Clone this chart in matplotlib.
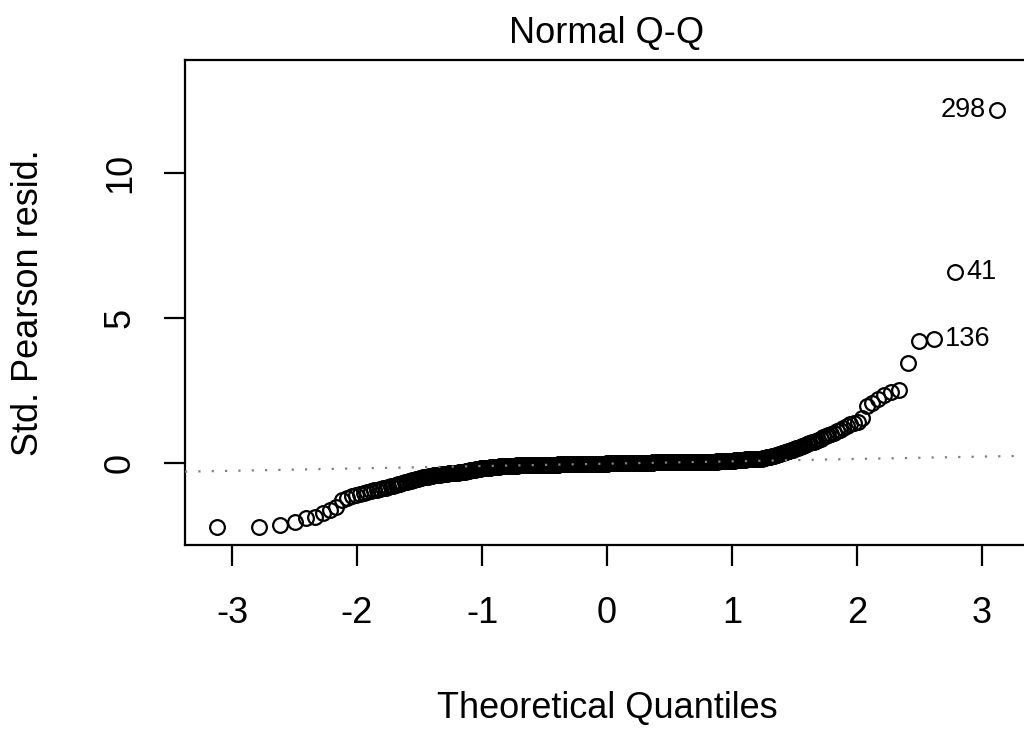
import statistics

import matplotlib
matplotlib.use("Agg")
import matplotlib.pyplot as plt
import numpy as np

plt.rcParams["font.family"] = ["Liberation Sans", "DejaVu Sans"]
plt.rcParams["axes.unicode_minus"] = False

# Sorted standardized Pearson residuals, lowest to highest
left_tail = [-2.22, -2.20, -2.14, -2.02, -1.91, -1.85, -1.73, -1.62, -1.51, -1.28,
             -1.20, -1.15]

lower_shoulder = [
    -1.10, -1.06, -1.02, -1.00, -0.97, -0.95, -0.92, -0.90,
    -0.88, -0.85, -0.83, -0.80, -0.78, -0.76, -0.73, -0.71, -0.68, -0.66,
    -0.64, -0.63, -0.61, -0.59, -0.58, -0.56, -0.55, -0.53, -0.52, -0.50,
    -0.49, -0.48, -0.47, -0.46, -0.45, -0.44, -0.43, -0.42, -0.41, -0.40,
    -0.40, -0.39, -0.39, -0.38, -0.38, -0.37, -0.37, -0.36, -0.36, -0.35,
    -0.35, -0.35, -0.34, -0.34, -0.33, -0.33, -0.32, -0.32, -0.31, -0.31,
    -0.30, -0.30, -0.29, -0.28, -0.28, -0.27, -0.26, -0.26, -0.25, -0.24,
    -0.24, -0.23, -0.22, -0.22, -0.21, -0.21, -0.20, -0.19, -0.19, -0.18,
]

center_low = [
    -0.18, -0.18, -0.17, -0.17, -0.17, -0.16, -0.16, -0.16, -0.15, -0.15,
    -0.15, -0.14, -0.14, -0.14, -0.14, -0.13, -0.13, -0.13, -0.13, -0.12,
    -0.12, -0.12, -0.12, -0.12, -0.11, -0.11, -0.11, -0.11, -0.11, -0.10,
    -0.10, -0.10, -0.10, -0.10, -0.10, -0.09, -0.09, -0.09, -0.09, -0.09,
    -0.09, -0.09, -0.08, -0.08, -0.08, -0.08, -0.08, -0.08, -0.08, -0.08,
]

center_mid_low = [
    -0.08, -0.08, -0.08, -0.08, -0.08, -0.08, -0.08, -0.08, -0.08, -0.08,
    -0.08, -0.08, -0.08, -0.08, -0.08, -0.07, -0.07, -0.07, -0.07, -0.07,
    -0.07, -0.07, -0.07, -0.07, -0.07, -0.07, -0.07, -0.07, -0.07, -0.07,
    -0.07, -0.07, -0.07, -0.07, -0.07, -0.06, -0.06, -0.06, -0.06, -0.06,
    -0.06, -0.06, -0.06, -0.06, -0.06, -0.06, -0.06, -0.06, -0.06, -0.06,
    -0.06, -0.06, -0.06, -0.06, -0.06, -0.05, -0.05, -0.05, -0.05, -0.05,
    -0.05, -0.05, -0.05, -0.05, -0.05, -0.05, -0.05, -0.05, -0.05, -0.05,
    -0.05, -0.05, -0.05, -0.05, -0.05, -0.04, -0.04, -0.04, -0.04, -0.04,
    -0.04, -0.04, -0.04, -0.04, -0.04, -0.04, -0.04, -0.04, -0.04, -0.04,
    -0.04, -0.04, -0.04, -0.04, -0.04, -0.04, -0.04, -0.04, -0.04, -0.04,
    -0.03, -0.03, -0.03, -0.03, -0.03, -0.03, -0.03, -0.03, -0.03, -0.03,
    -0.03, -0.03, -0.03, -0.03, -0.03, -0.03, -0.03, -0.03, -0.03, -0.03,
    -0.02, -0.02, -0.02, -0.02, -0.02, -0.02, -0.02, -0.02, -0.02, -0.02,
    -0.02, -0.02, -0.02, -0.02, -0.02, -0.02, -0.02, -0.02, -0.02, -0.02,
]

center_mid_high = [
    -0.01, -0.01, -0.01, -0.01, -0.01, -0.01, -0.01, -0.01, -0.01, -0.01,
    -0.01, -0.01, -0.01, -0.01, -0.01, -0.01, -0.01, -0.01, -0.01, -0.01,
    0.00, 0.00, 0.00, 0.00, 0.00, 0.00, 0.00, 0.00, 0.00, 0.00,
    0.00, 0.00, 0.00, 0.00, 0.00, 0.00, 0.00, 0.00, 0.00, 0.00,
    0.00, 0.00, 0.00, 0.00, 0.00, 0.00, 0.00, 0.00, 0.00, 0.00,
    0.01, 0.01, 0.01, 0.01, 0.01, 0.01, 0.01, 0.01, 0.01, 0.01,
    0.01, 0.01, 0.01, 0.01, 0.01, 0.01, 0.01, 0.01, 0.01, 0.01,
    0.01, 0.01, 0.01, 0.01, 0.01, 0.01, 0.01, 0.01, 0.01, 0.01,
    0.02, 0.02, 0.02, 0.02, 0.02, 0.02, 0.02, 0.02, 0.02, 0.02,
    0.02, 0.02, 0.02, 0.02, 0.02, 0.02, 0.02, 0.02, 0.02, 0.02,
    0.02, 0.02, 0.02, 0.02, 0.02, 0.02, 0.02, 0.02, 0.02, 0.02,
    0.03, 0.03, 0.03, 0.03, 0.03, 0.03, 0.03, 0.03, 0.03, 0.03,
    0.03, 0.03, 0.03, 0.03, 0.03, 0.03, 0.03, 0.03, 0.03, 0.03,
    0.03, 0.03, 0.03, 0.03, 0.03, 0.03, 0.03, 0.03, 0.03, 0.03,
]

center_high = [
    0.03, 0.03, 0.03, 0.03, 0.03, 0.03, 0.03, 0.03, 0.03, 0.03,
    0.04, 0.04, 0.04, 0.04, 0.04, 0.04, 0.04, 0.04, 0.04, 0.04,
    0.04, 0.04, 0.05, 0.05, 0.05, 0.05, 0.05, 0.05, 0.05, 0.05,
    0.05, 0.05, 0.05, 0.05, 0.06, 0.06, 0.06, 0.06, 0.06, 0.06,
    0.06, 0.06, 0.06, 0.06, 0.07, 0.07, 0.07, 0.07, 0.07, 0.07,
]

upper_shoulder = [
    0.07, 0.08, 0.08, 0.08, 0.09, 0.09, 0.09, 0.10, 0.10, 0.10,
    0.10, 0.11, 0.11, 0.11, 0.11, 0.12, 0.12, 0.12, 0.12, 0.13,
    0.13, 0.13, 0.13, 0.14, 0.14, 0.14, 0.14, 0.15, 0.15, 0.15,
    0.16, 0.17, 0.18, 0.19, 0.20, 0.21, 0.22, 0.23, 0.24, 0.25,
    0.27, 0.28, 0.30, 0.32, 0.33, 0.35, 0.37, 0.38, 0.40, 0.42,
    0.44, 0.46, 0.49, 0.51, 0.53, 0.56, 0.58, 0.60, 0.63, 0.65,
    0.68, 0.71, 0.74, 0.77, 0.80, 0.84, 0.88, 0.92, 0.96, 1.00,
    1.05, 1.10, 1.15, 1.21, 1.28, 1.33, 1.38, 1.42, 1.55,
]

right_tail = [1.95, 2.08, 2.20, 2.35, 2.45, 2.52, 3.44, 4.22, 4.26, 6.59, 12.17]

# ids of the three most extreme observations (3rd, 2nd and 1st largest)
extreme_ids = ["136", "41", "298"]

resid = np.array(left_tail + lower_shoulder + center_low + center_mid_low
                 + center_mid_high + center_high + upper_shoulder + right_tail)
n = len(resid)

# theoretical normal quantiles at ppoints(n)
probs = (np.arange(1, n + 1) - 0.5) / n
norm = statistics.NormalDist()
theo = np.array([norm.inv_cdf(p) for p in probs])

# reference line through the quartiles
q1, q3 = np.quantile(resid, [0.25, 0.75])
z1, z3 = norm.inv_cdf(0.25), norm.inv_cdf(0.75)
slope = (q3 - q1) / (z3 - z1)
intercept = q1 - slope * z1

fig = plt.figure(figsize=(10.24, 7.29), dpi=100)
ax = fig.add_axes([185 / 1024, 1 - 545 / 729, 843 / 1024, 485 / 729])

ax.plot(theo, resid, "o", mfc="none", mec="black", ms=10.6, mew=1.6, zorder=2)
ax.axline((0, intercept), slope=slope, color="#808080", lw=1.6,
          linestyle=(0, (1, 5)), zorder=3)

# label the extreme points: largest one on the left, the others on the right
for k, lab in enumerate(extreme_ids):
    i = n - len(extreme_ids) + k
    if k == len(extreme_ids) - 1:
        ax.annotate(lab, (theo[i], resid[i]), xytext=(-12, 0),
                    textcoords="offset pixels", ha="right", va="center",
                    fontsize=19.5)
    else:
        ax.annotate(lab, (theo[i], resid[i]), xytext=(11, 0),
                    textcoords="offset pixels", ha="left", va="center",
                    fontsize=19.5)

ax.set_xlim(-3.376, 3.368)
ax.set_ylim(-2.83, 13.9)
ax.set_xticks([-3, -2, -1, 0, 1, 2, 3])
ax.set_yticks([0, 5, 10])
ax.tick_params(direction="out", length=15, width=1.6, labelsize=26)
ax.tick_params(axis="x", pad=22)
ax.tick_params(axis="y", pad=19)
for t in ax.get_yticklabels():
    t.set_rotation(90)
    t.set_va("center")
for s in ax.spines.values():
    s.set_linewidth(1.6)

ax.set_title("Normal Q-Q", fontsize=26, pad=12)
fig.text(607 / 1024, 1 - 718 / 729, "Theoretical Quantiles", fontsize=26,
         ha="center", va="baseline")
fig.text(29 / 1024, 1 - 303 / 729, "Std. Pearson resid.", fontsize=26,
         rotation=90, ha="center", va="center")

fig.savefig("out.png", dpi=100)
